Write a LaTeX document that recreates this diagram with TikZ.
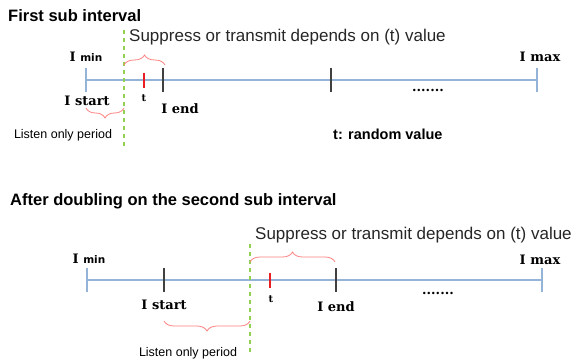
\documentclass[tikz,border=0pt]{standalone}
\usepackage{fontspec}
\setmainfont{Liberation Sans}
\newfontfamily\labfont{DejaVu Serif}
\newfontfamily\minfont{DejaVu Sans}
\usetikzlibrary{decorations.pathreplacing}
\definecolor{axisblue}{RGB}{149,179,215}
\definecolor{pgreen}{RGB}{146,208,80}
\definecolor{bred}{RGB}{255,128,128}
\definecolor{tred}{RGB}{232,30,36}
\tikzset{
  axis line/.style = {axisblue, line width = 1.5pt},
  end tick/.style = {axisblue, line width = 1.5pt},
  mid tick/.style = {black!75, line width = 1.5pt},
  t tick/.style = {tred, line width = 2pt},
  period line/.style = {pgreen, line width = 2.5pt, dash pattern = on 4pt off 4pt},
  period brace/.style = {bred, line width = 0.8pt, decorate, decoration = {brace, amplitude = 10pt}},
  lab/.style = {font = \labfont\bfseries\fontsize{13}{15}\selectfont, inner sep = 0pt},
  title/.style = {font = \bfseries\fontsize{16.5}{18}\selectfont, anchor = west, inner sep = 0pt},
  note/.style = {font = \fontsize{17}{19}\selectfont, anchor = west, inner sep = 0pt, text = black!85},
  small/.style = {font = \fontsize{12.5}{14}\selectfont, inner sep = 0pt}
}
\newcommand{\minlab}[1]{{\minfont\bfseries\fontsize{10.5}{12}\selectfont #1}}
\begin{document}
\begin{tikzpicture}[x = 1pt, y = -1pt]
\useasboundingbox (0,0) rectangle (571,361);
% first sub interval
\node[title] (title1) at (8,16) {First sub interval};
\coordinate (a1) at (86,80);
\coordinate (b1) at (537,80);
\draw[axis line] (a1) -- (b1);
\foreach \x in {86,537}
{
	\draw[end tick] (\x,68) -- (\x,92);
}
\foreach \x in {163,331}
{
	\draw[mid tick] (\x,68) -- (\x,92);
}
\draw[t tick] (144,73) -- (144,88);
\coordinate (g1top) at (124,30);
\coordinate (g1bot) at (124,146);
\draw[period line] (g1top) -- (g1bot);
\coordinate (s1a) at (124,65);
\coordinate (s1b) at (165,65);
\draw[period brace] (s1a) -- (s1b);
\coordinate (l1a) at (124,108);
\coordinate (l1b) at (86,108);
\draw[period brace] (l1a) -- (l1b);
\node[lab] (min1) at (86,57) {I \minlab{min}};
\node[lab] (max1) at (540,57) {I max};
\node[lab] (start1) at (87,101) {I start};
\node[lab, font = \labfont\bfseries\fontsize{10}{12}\selectfont] (t1) at (144,98) {t};
\node[lab] (end1) at (180,109) {I end};
\node[lab] (dots1) at (428,90) {.......};
\node[note] (supp1) at (129,37) {Suppress or transmit depends on (t) value};
\node[small] (listen1) at (63,135) {Listen only period};
\node[font = \bfseries\fontsize{14.5}{16}\selectfont, anchor = west, inner sep = 0pt] (rand) at (333,134) {t: random value};
% after doubling
\node[title] (title2) at (10,201) {After doubling on the second sub interval};
\coordinate (a2) at (87,280);
\coordinate (b2) at (542,280);
\draw[axis line] (a2) -- (b2);
\foreach \x in {87,542}
{
	\draw[end tick] (\x,268) -- (\x,292);
}
\foreach \x in {164,336}
{
	\draw[mid tick] (\x,268) -- (\x,292);
}
\draw[t tick] (270,273) -- (270,288);
\coordinate (g2top) at (250,244);
\coordinate (g2bot) at (250,352);
\draw[period line] (g2top) -- (g2bot);
\coordinate (s2a) at (250,262);
\coordinate (s2b) at (335,262);
\draw[period brace] (s2a) -- (s2b);
\coordinate (l2a) at (250,321);
\coordinate (l2b) at (164,321);
\draw[period brace] (l2a) -- (l2b);
\node[lab] (min2) at (89,259) {I \minlab{min}};
\node[lab] (max2) at (540,260) {I max};
\node[lab] (start2) at (164,305) {I start};
\node[lab, font = \labfont\bfseries\fontsize{10}{12}\selectfont] (t2) at (271,299) {t};
\node[lab] (end2) at (336,307) {I end};
\node[lab] (dots2) at (438,293) {.......};
\node[note] (supp2) at (255,235) {Suppress or transmit depends on (t) value};
\node[small] (listen2) at (188,353) {Listen only period};
\end{tikzpicture}
\end{document}
